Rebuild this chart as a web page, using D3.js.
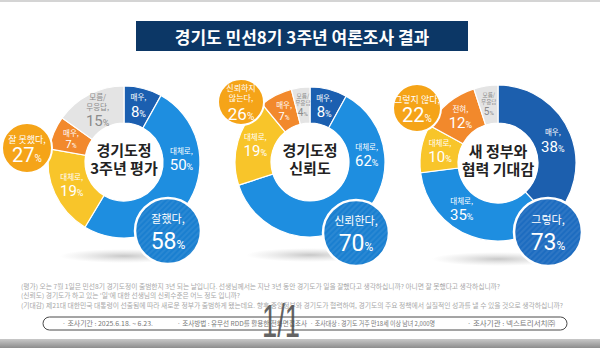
<!DOCTYPE html>
<html><head><meta charset="utf-8">
<script src="https://cdn.jsdelivr.net/npm/d3@7"></script>
<style>
html,body{margin:0;padding:0;background:#fff;}
svg{display:block;font-family:"Noto Sans CJK KR","Noto Sans",sans-serif;}
</style></head>
<body>
<svg id="c" width="600" height="348"></svg>
<script>
// ---------- DATA ----------
const title = "경기도 민선8기 3주년 여론조사 결과";
const centerTitles = [["경기도정","3주년 평가"],["경기도정","신뢰도"],["새 정부와","협력 기대감"]];
const sliceCategories = ["매우 긍정","대체로 긍정","대체로 부정","매우 부정","모름/무응답"];
const sliceLabels1 = ["매우,","대체로,","대체로,","매우,","모름/|무응답,"];
const sliceLabels2 = ["매우,","대체로,","대체로,","매우,","모름/|무응답"];
const sliceLabels3 = ["매우,","대체로,","대체로,","전혀,","모름/|무응답"];
const values1 = [8, 50, 19, 7, 15];
const values2 = [8, 62, 19, 7, 4];
const values3 = [38, 35, 10, 12, 5];
const positiveLabels = ["잘했다,","신뢰한다,","그렇다,"];
const positiveValues = [58, 70, 73];
const negativeLabels = ["잘 못했다,","신뢰하지|않는다,","그렇지 않다,"];
const negativeValues = [27, 26, 22];
const notes = [
 "(평가) 오는 7월 1일은 민선8기 경기도정이 출범한지 3년 되는 날입니다. 선생님께서는 지난 3년 동안 경기도가 일을 잘했다고 생각하십니까? 아니면 잘 못했다고 생각하십니까?",
 "(신뢰도) 경기도가 하고 있는 '일'에 대한 선생님의 신뢰수준은 어느 정도 입니까?",
 "(기대감) 제21대 대한민국 대통령이 선출됨에 따라 새로운 정부가 출범하게 됐는데요. 향후 중앙정부와 경기도가 협력하여, 경기도의 주요 정책에서 실질적인 성과를 낼 수 있을 것으로 생각하십니까?"
];
const surveyInfo = ["· 조사기간 : 2025.6.18. ~ 6.23.","· 조사방법 : 유무선 RDD를 활용한 전화면접조사","· 조사대상 : 경기도 거주 만18세 이상 남녀 2,000명","· 조사기관 : 넥스트리서치㈜"];
const pageMark = "1/1";

// ---------- LAYOUT / STYLE ----------
const donuts = [
  {labels: sliceLabels1, values: values1, cx:124, cy:162, r0:39, r1:76, colors:["#1b5fb0","#1e8ee0","#f8c52a","#f2892c","#e4e4e4"], labelAngle:{1:88}, pos:[168,231,33], neg:[27,148,25], bubble:"#1a7fd0"},
  {labels: sliceLabels2, values: values2, cx:310, cy:162, r0:39, r1:75, colors:["#1b5fb0","#1e8ee0","#f8c52a","#f2892c","#e4e4e4"], labelAngle:{1:84}, pos:[356,233,33], neg:[241,102,23], bubble:"#1a7fd0"},
  {labels: sliceLabels3, values: values3, cx:498, cy:163, r0:40, r1:78, colors:["#1c5fae","#1e8ee0","#f8c52a","#f2892c","#e4e4e4"], labelAngle:{1:218}, pos:[548,232,34], neg:[417,108,24], bubble:"#1d6cc0"}
];
const noteLayout = {x:21, y:[286, 295.5, 305], len:[479, 219, 542]};
const infoLayout = {x:[62,177,310,467], len:[91,130,125,88]};
const numFont = "Roboto,'Noto Sans',sans-serif";

const svg = d3.select("#c");
const defs = svg.append("defs");
const grad = defs.append("radialGradient").attr("id","shadow");
grad.append("stop").attr("offset","0%").attr("stop-color","#9a9a9a").attr("stop-opacity",0.55);
grad.append("stop").attr("offset","100%").attr("stop-color","#bbb").attr("stop-opacity",0);
const stripe = defs.append("pattern").attr("id","stripe").attr("patternUnits","userSpaceOnUse")
  .attr("width",4).attr("height",4).attr("patternTransform","rotate(45)");
stripe.append("rect").attr("width",2).attr("height",4).attr("fill","#fff").attr("opacity",0.07);
const band = defs.append("linearGradient").attr("id","band").attr("x1",0).attr("x2",0).attr("y1",0).attr("y2",1);
band.append("stop").attr("offset","0%").attr("stop-color","#c8c8c8");
band.append("stop").attr("offset","100%").attr("stop-color","#8d8d8d");

svg.append("rect").attr("x",0).attr("y",0).attr("width",600).attr("height",2).attr("fill","#d4d4d4");
svg.append("rect").attr("x",0).attr("y",339).attr("width",600).attr("height",9).attr("fill","url(#band)");

svg.append("rect").attr("x",136).attr("y",21).attr("width",332).attr("height",30).attr("fill","#0c3766");
svg.append("text").attr("x",302).attr("y",36).attr("text-anchor","middle").attr("dominant-baseline","central")
  .attr("fill","#fff").attr("font-size",17).attr("font-weight",700).text(title);

const deg = Math.PI/180;

function block(parent, x, items, fill, weight) {
  const t = parent.append("text").attr("text-anchor","middle").attr("fill",fill);
  if (weight) t.attr("font-weight", weight);
  items.forEach(it => {
    const base = it.cy + it.size*0.36;
    if (it.num !== undefined) {
      t.append("tspan").attr("x",x).attr("y",base).attr("font-size",it.size).attr("font-family",numFont).text(it.num);
      t.append("tspan").attr("font-size",it.pctSize).attr("font-family",numFont).text("%");
    } else {
      t.append("tspan").attr("x",x).attr("y",base).attr("font-size",it.size).text(it.text);
    }
  });
  return t;
}

donuts.forEach((d, i) => {
  const g = svg.append("g").attr("transform",`translate(${d.cx},${d.cy})`);
  g.append("ellipse").attr("cx",0).attr("cy",d.r1+18).attr("rx",d.r1*0.85).attr("ry",7).attr("fill","url(#shadow)");
  const pie = d3.pie().sort(null).value(v => v).startAngle(0).endAngle(2*Math.PI);
  const arcs = pie(d.values);
  const arc = d3.arc().innerRadius(d.r0).outerRadius(d.r1);
  g.selectAll("path.slice").data(arcs).join("path").attr("class","slice")
    .attr("d", arc).attr("fill",(a,k)=>d.colors[k]).attr("stroke","#fff").attr("stroke-width",1.2);
  g.append("circle").attr("r",d.r0).attr("fill","#fff");
  const ct = centerTitles[i];
  block(g, 0, [{cy:-11,size:15,text:ct[0]},{cy:7,size:15,text:ct[1]}], "#222", 700);

  const rl = (d.r0 + d.r1)/2;
  arcs.forEach((a,k) => {
    const ang = (d.labelAngle[k] !== undefined) ? d.labelAngle[k]*deg : (a.startAngle + a.endAngle)/2;
    const x = rl*Math.sin(ang), y = -rl*Math.cos(ang);
    const tiny = a.value <= 5, small = a.value < 8;
    const fill = k===4 ? "#8a8a8a" : "#fff";
    const lines = d.labels[k].split("|");
    const pctSize = tiny ? 10 : (small ? 11 : 15);
    const catSize = tiny ? 5.6 : 7.5;
    const lh = catSize*1.25;
    const gap = catSize*0.6 + pctSize*0.6;
    const total = (lines.length-1)*lh + gap + catSize/2 + pctSize/2;
    const y0 = y - total/2 + catSize/2;
    const items = lines.map((ln,j)=>({cy:y0 + j*lh, size:catSize, text:ln}));
    items.push({cy: y0 + (lines.length-1)*lh + gap, size:pctSize, num:a.value, pctSize:pctSize*0.6});
    block(g, x, items, fill);
  });

  const [nx,ny,nr] = d.neg;
  svg.append("circle").attr("cx",nx).attr("cy",ny).attr("r",nr).attr("fill","#f5a418").attr("stroke","#fff").attr("stroke-width",2);
  const nl = negativeLabels[i].split("|");
  const two = nl.length > 1;
  const nlh = two ? 10 : 9;
  const nGap = two ? 16 : 15;
  const nTop = ny - ((nl.length-1)*nlh + nGap)/2 - 1;
  const nItems = nl.map((ln,j)=>({cy:nTop + j*nlh, size:two?8:9, text:ln}));
  nItems.push({cy:nTop + (nl.length-1)*nlh + nGap, size:two?17:20, num:negativeValues[i], pctSize:10});
  block(svg, nx, nItems, "#fff");

  const [px,py,pr] = d.pos;
  svg.append("circle").attr("cx",px).attr("cy",py).attr("r",pr).attr("fill",d.bubble).attr("stroke","#fff").attr("stroke-width",2.5);
  svg.append("circle").attr("cx",px).attr("cy",py).attr("r",pr).attr("fill","url(#stripe)");
  block(svg, px, [{cy:py-12,size:11,text:positiveLabels[i]},{cy:py+10,size:23,num:positiveValues[i],pctSize:12}], "#fff");
});

notes.forEach((n,k)=>{
  svg.append("text").attr("x",noteLayout.x).attr("y",noteLayout.y[k]).attr("dominant-baseline","central")
    .attr("font-size",6.3).attr("fill","#a8a8a8")
    .attr("textLength",noteLayout.len[k]).attr("lengthAdjust","spacingAndGlyphs").text(n);
});
svg.append("rect").attr("x",43).attr("y",317).attr("width",524).attr("height",13).attr("rx",6.5)
  .attr("fill","#fff").attr("stroke","#4a4a4a").attr("stroke-width",1);
surveyInfo.forEach((s,k)=>{
  svg.append("text").attr("x",infoLayout.x[k]).attr("y",323.5).attr("dominant-baseline","central")
    .attr("font-size",6.3).attr("fill","#777")
    .attr("textLength",infoLayout.len[k]).attr("lengthAdjust","spacingAndGlyphs").text(s);
});
svg.append("text").attr("x",281).attr("y",321).attr("text-anchor","middle").attr("dominant-baseline","central")
  .attr("font-size",46).attr("font-family","'Liberation Sans',Arial,sans-serif").attr("fill","#4a4a4a").attr("opacity",0.85)
  .attr("textLength",38).attr("lengthAdjust","spacingAndGlyphs").text(pageMark);
</script>
</body></html>
